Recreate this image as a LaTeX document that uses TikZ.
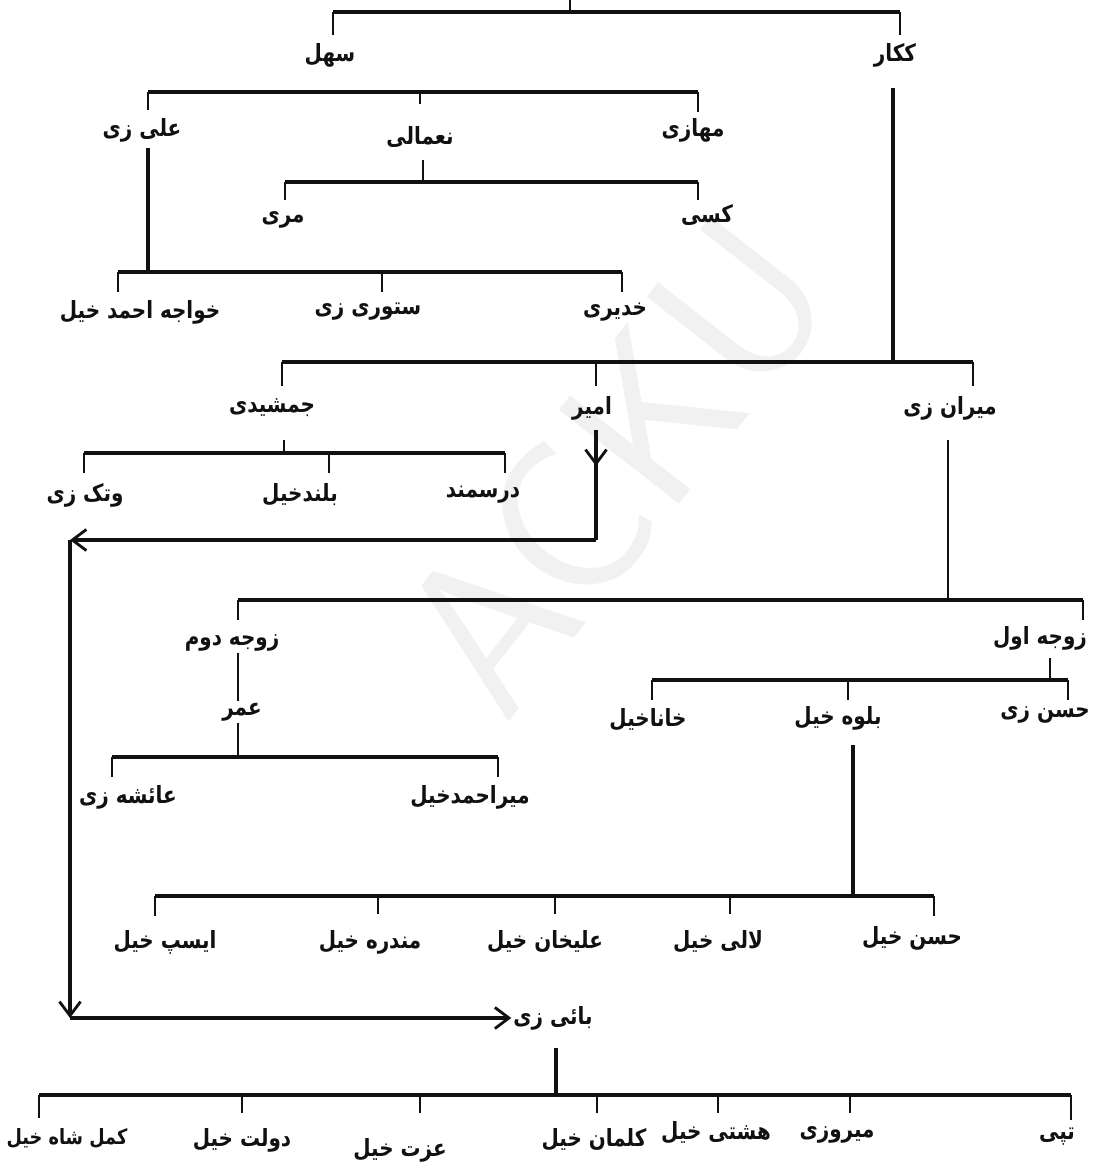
\documentclass[tikz,border=0pt]{standalone}
\usepackage{fontspec}
\usetikzlibrary{arrows.meta, positioning}
\TeXXeTstate=1
\newfontfamily\arabicfont[Script=Arabic, FakeStretch=0.84]{DejaVu Sans}
\newcommand{\ar}[1]{{\arabicfont\bfseries\beginR #1\endR}}
\definecolor{inkblack}{HTML}{111111}
\definecolor{markgray}{HTML}{F1F1F1}

\begin{document}
\begin{tikzpicture}[x=0.02cm, y=-0.02cm]
\tikzstyle{tribe} = [inner sep=1pt, text=inkblack, font=\fontsize{13.5}{15}\selectfont]
\tikzstyle{bar} = [line width=2.6pt, draw=inkblack]
\tikzstyle{drop} = [line width=1.3pt, draw=inkblack]
\tikzstyle{stem} = [line width=1.8pt, draw=inkblack]
\tikzstyle{trail} = [line width=2pt, draw=inkblack, -{Straight Barb[length=8pt, width=12pt, line width=1.6pt]}]

\useasboundingbox (0,0) rectangle (1101,1168);

% watermark
\node (mark) [rotate=52, text=markgray, font=\sffamily\fontsize{125}{125}\selectfont] at (615,465) {ACKU};

% root
\coordinate (root) at (570,0);
\node (sahl) [tribe] at (330,55) {\ar{سهل}};
\node (kakar) [tribe] at (895,55) {\ar{ککار}};
\draw[drop] (root) -- (570,12);
\draw[bar] (333,12) -- (900,12);
\draw[drop] (333,12) -- (333,35);
\draw[drop] (900,12) -- (900,35);

% sahl
\node (alizi) [tribe] at (142,130) {\ar{علی زی}};
\node (naamali) [tribe] at (420,137) {\ar{نعمالی}};
\node (mahazi) [tribe] at (693,130) {\ar{مهازی}};
\draw[bar] (148,92) -- (698,92);
\draw[drop] (148,92) -- (148,110);
\draw[drop] (420,92) -- (420,104);
\draw[drop] (698,92) -- (698,112);

% naamali
\coordinate (naamalifoot) at (423,160);
\node (mari) [tribe] at (283,220) {\ar{مری}};
\node (kasi) [tribe] at (707,215) {\ar{کسی}};
\draw[drop] (naamalifoot) -- (423,182);
\draw[bar] (285,182) -- (698,182);
\draw[drop] (285,182) -- (285,200);
\draw[drop] (698,182) -- (698,200);

% alizi
\coordinate (alizifoot) at (148,148);
\node (khwaja) [tribe] at (140,312) {\ar{خواجه احمد خیل}};
\node (stori) [tribe] at (368,312) {\ar{ستوری زی}};
\node (khadiri) [tribe] at (615,312) {\ar{خدیری}};
\draw[stem] (alizifoot) -- (148,272);
\draw[bar] (118,272) -- (622,272);
\draw[drop] (118,272) -- (118,292);
\draw[drop] (382,272) -- (382,292);
\draw[drop] (622,272) -- (622,292);

% kakar
\coordinate (kakarfoot) at (893,88);
\node (jamshidi) [tribe] at (272,408) {\ar{جمشیدی}};
\node (amir) [tribe] at (592,408) {\ar{امیر}};
\node (miranzi) [tribe] at (950,408) {\ar{میران زی}};
\draw[stem] (kakarfoot) -- (893,362);
\draw[bar] (282,362) -- (973,362);
\draw[drop] (282,362) -- (282,386);
\draw[drop] (596,362) -- (596,386);
\draw[drop] (973,362) -- (973,386);

% jamshidi
\coordinate (jamfoot) at (284,440);
\node (watak) [tribe] at (85,495) {\ar{وتک زی}};
\node (buland) [tribe] at (300,495) {\ar{بلندخیل}};
\node (darsamand) [tribe] at (483,495) {\ar{درسمند}};
\draw[drop] (jamfoot) -- (284,453);
\draw[bar] (84,453) -- (505,453);
\draw[drop] (84,453) -- (84,473);
\draw[drop] (329,453) -- (329,473);
\draw[drop] (505,453) -- (505,473);

% amir to baizi
\node (baizi) [tribe] at (553,1018) {\ar{بائی زی}};
\coordinate (amirfoot) at (596,430);
\coordinate (turn1) at (596,540);
\coordinate (turn2) at (70,540);
\coordinate (turn3) at (70,1018);
\draw[stem] (amirfoot) -- (turn1);
\draw[trail] (amirfoot) -- ++(0,36);
\draw[trail] (turn1) -- (turn2);
\draw[trail] (turn2) -- (turn3);
\draw[trail] (turn3) -- (baizi.west);

% miranzi
\coordinate (miranfoot) at (948,440);
\node (dowom) [tribe] at (232,643) {\ar{زوجه دوم}};
\node (awal) [tribe] at (1040,638) {\ar{زوجه اول}};
\draw[drop] (miranfoot) -- (948,600);
\draw[bar] (238,600) -- (1083,600);
\draw[drop] (238,600) -- (238,620);
\draw[drop] (1083,600) -- (1083,620);

% dowom
\node (umar) [tribe] at (242,712) {\ar{عمر}};
\node (aisha) [tribe] at (128,797) {\ar{عائشه زی}};
\node (mirahmad) [tribe] at (470,797) {\ar{میراحمدخیل}};
\draw[drop] (238,0 |- dowom.south) -- (238,0 |- umar.north);
\draw[drop] (238,0 |- umar.south) -- (238,757);
\draw[bar] (112,757) -- (498,757);
\draw[drop] (112,757) -- (112,777);
\draw[drop] (498,757) -- (498,777);

% awal
\coordinate (awalfoot) at (1050,658);
\node (khana) [tribe] at (648,720) {\ar{خاناخیل}};
\node (baluh) [tribe] at (838,718) {\ar{بلوه خیل}};
\node (hasanzi) [tribe] at (1045,715) {\ar{حسن زی}};
\draw[drop] (awalfoot) -- (1050,680);
\draw[bar] (652,680) -- (1068,680);
\draw[drop] (652,680) -- (652,700);
\draw[drop] (848,680) -- (848,700);
\draw[drop] (1068,680) -- (1068,700);

% baluh
\coordinate (baluhfoot) at (853,745);
\node (isap) [tribe] at (165,942) {\ar{ایسپ خیل}};
\node (mandra) [tribe] at (370,942) {\ar{مندره خیل}};
\node (alikhan) [tribe] at (545,942) {\ar{علیخان خیل}};
\node (lali) [tribe] at (718,942) {\ar{لالی خیل}};
\node (hasankhel) [tribe] at (912,938) {\ar{حسن خیل}};
\draw[stem] (baluhfoot) -- (853,896);
\draw[bar] (155,896) -- (934,896);
\draw[drop] (155,896) -- (155,916);
\draw[drop] (378,896) -- (378,914);
\draw[drop] (555,896) -- (555,914);
\draw[drop] (730,896) -- (730,914);
\draw[drop] (934,896) -- (934,916);

% baizi
\coordinate (baizifoot) at (556,1048);
\node (kamal) [tribe, font=\fontsize{12}{14}\selectfont] at (67,1138) {\ar{کمل شاه خیل}};
\node (dawlat) [tribe] at (242,1140) {\ar{دولت خیل}};
\node (izzat) [tribe] at (400,1150) {\ar{عزت خیل}};
\node (kalman) [tribe] at (594,1140) {\ar{کلمان خیل}};
\node (hashti) [tribe] at (716,1133) {\ar{هشتی خیل}};
\node (mirozi) [tribe] at (837,1135) {\ar{میروزی}};
\node (tapi) [tribe] at (1057,1137) {\ar{تپی}};
\draw[stem] (baizifoot) -- (556,1095);
\draw[bar] (39,1095) -- (1071,1095);
\draw[drop] (39,1095) -- (39,1118);
\draw[drop] (242,1095) -- (242,1113);
\draw[drop] (420,1095) -- (420,1113);
\draw[drop] (597,1095) -- (597,1113);
\draw[drop] (718,1095) -- (718,1113);
\draw[drop] (850,1095) -- (850,1113);
\draw[drop] (1071,1095) -- (1071,1120);

\end{tikzpicture}
\end{document}
